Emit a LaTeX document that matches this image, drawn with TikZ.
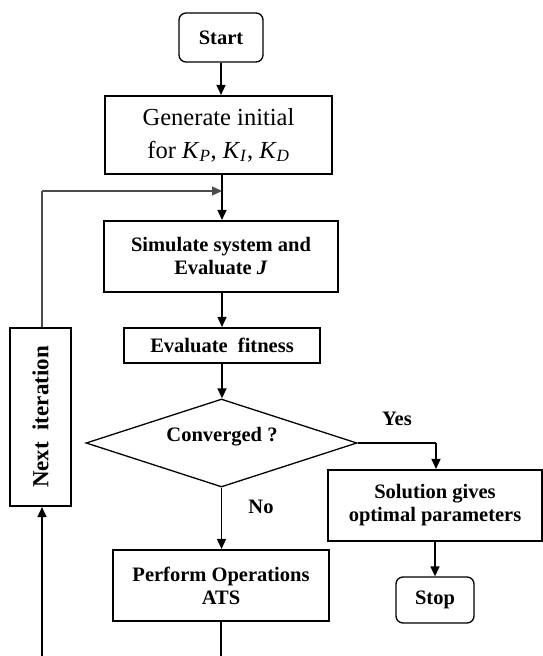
\documentclass[tikz,border=0pt]{standalone}
\usepackage{fontspec}
\setmainfont{Liberation Serif}
\usetikzlibrary{arrows.meta,shapes.geometric}
\newcommand{\kvar}[1]{\textit{K}\textsubscript{\textit{#1}}}
\begin{document}
\begin{tikzpicture}[x=1pt,y=-1pt,
  boxa/.style={draw, line width=2.1pt, inner sep=0pt, align=center, font=\fontsize{20.5}{23}\selectfont\bfseries},
  termbox/.style={draw, line width=1.3pt, rounded corners=7pt, inner sep=0pt, align=center, font=\fontsize{20.5}{23}\selectfont\bfseries},
  decbox/.style={draw, line width=1.3pt, shape=diamond, aspect=3.08, inner sep=0pt, font=\fontsize{20.5}{23}\selectfont\bfseries},
  arr/.style={line width=1.5pt, -{Triangle[length=10pt,width=9pt]}},
  ln/.style={line width=1.5pt},
  fb/.style={line width=1.2pt, draw=black!70},
  lbl/.style={font=\fontsize{20.5}{23}\selectfont\bfseries, inner sep=0pt}
]
\useasboundingbox (0,0) rectangle (543,656);

\node[termbox, minimum width=84pt, minimum height=49pt] (start) at (221,37.5) {Start};
\node[boxa, font=\fontsize{24.5}{33}\selectfont, minimum width=227pt, minimum height=78pt] (gen) at (218.5,135)
  {Generate initial\\for \kvar{P}, \kvar{I}, \kvar{D}};
\node[boxa, minimum width=234pt, minimum height=71pt] (sim) at (221,256.5)
  {Simulate system and\\Evaluate \textit{J}};
\node[boxa, minimum width=196pt, minimum height=35pt] (fit) at (222,345.5) {Evaluate\ \ fitness};
\node[decbox, minimum width=271pt, minimum height=88pt] (conv) at (221.5,443) {};
\node[lbl] (convt) at (222,437) {Converged ?};
\node[boxa, minimum width=214pt, minimum height=71pt] (sol) at (435,505.5)
  {Solution gives\\optimal parameters};
\node[termbox, minimum width=78pt, minimum height=46pt] (stop) at (435,600) {Stop};
\node[boxa, minimum width=61pt, minimum height=178pt] (next) at (40.5,417) {};
\node[lbl, font=\fontsize{23}{27}\selectfont\bfseries, rotate=90] (nextt) at (40.5,417) {Next\ \ iteration};
\node[boxa, minimum width=216pt, minimum height=71pt] (perf) at (221,585.5)
  {Perform Operations\\ATS};

\node[lbl] (yes) at (397,419) {Yes};
\node[lbl] (no) at (261,507) {No};

\coordinate (fbj) at (222,191);
\coordinate (fbc) at (42,191);
\coordinate (yc) at (436,443);
\coordinate (pbot) at (221,656);
\coordinate (lbot) at (42,656);

\draw[arr] (start.south) -- (start.south |- gen.north);
\draw[arr] (gen.south -| fbj) -- (fbj |- sim.north);
\draw[arr] (sim.south -| fit.north) -- (fit.north);
\draw[arr] (fit.south) -- (fit.south |- conv.north);
\draw[arr] (conv.south) -- (conv.south |- perf.north);
\draw[ln] (conv.east) -- (yc);
\draw[arr] (yc) -- (yc |- sol.north);
\draw[arr] (sol.south -| stop.north) -- (stop.north);
\draw[ln] (perf.south -| pbot) -- (pbot);
\draw[arr] (lbot) -- (lbot |- next.south);
\draw[fb] (fbc |- next.north) -- (fbc);
\draw[fb, -{Triangle[length=10pt,width=9pt]}] (fbc) -- (fbj);
\end{tikzpicture}
\end{document}
